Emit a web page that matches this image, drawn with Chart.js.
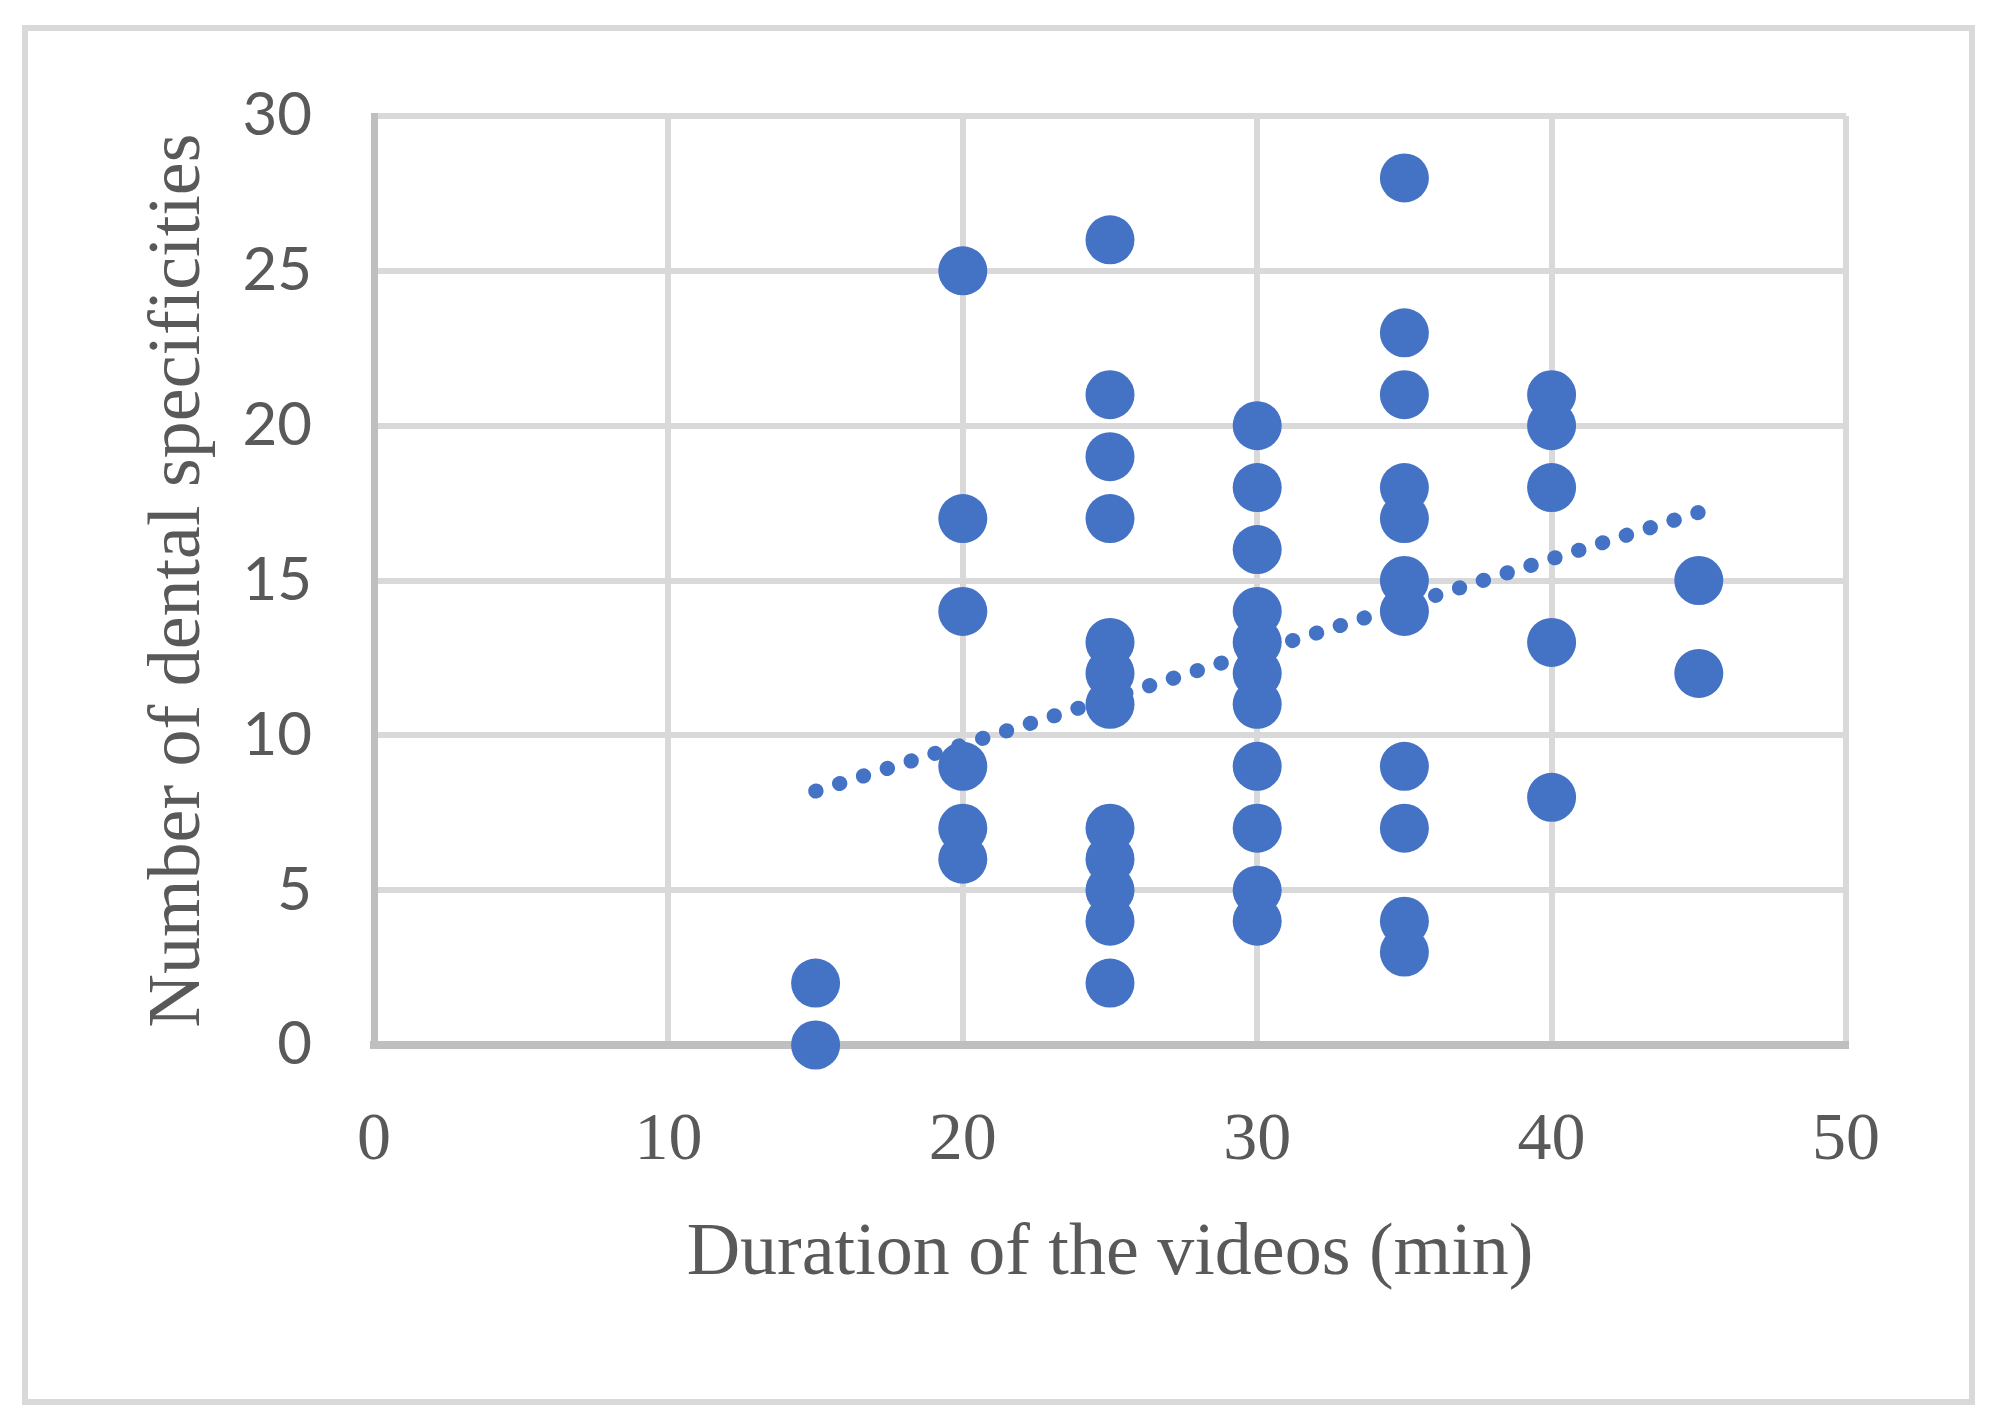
<!DOCTYPE html>
<html>
<head>
<meta charset="utf-8">
<script src="https://cdn.jsdelivr.net/npm/chart.js@4"></script>
<style>
  body { margin: 0; background: #fff; }
  #wrap { position: relative; width: 1994px; height: 1427px; }
  #frame {
    position: absolute; left: 22px; top: 25px; width: 1953px; height: 1380px;
    border: 6px solid #D9D9D9; box-sizing: border-box; pointer-events: none;
  }
  canvas { position: absolute; left: 0; top: 0; }
</style>
</head>
<body>
<div id="wrap">
  <canvas id="myChart" width="1994" height="1427"></canvas>
  <div id="frame"></div>
</div>
<script>
// durations (min) and counts, one entry per video
const durations = [
  15, 15,
  20, 20, 20, 20, 20, 20,
  25, 25, 25, 25, 25, 25, 25, 25, 25, 25, 25, 25,
  30, 30, 30, 30, 30, 30, 30, 30, 30, 30, 30,
  35, 35, 35, 35, 35, 35, 35, 35, 35, 35, 35,
  40, 40, 40, 40, 40,
  45, 45
];
const specificities = [
  2, 0,
  25, 17, 14, 9, 7, 6,
  26, 21, 19, 17, 13, 12, 11, 7, 6, 5, 4, 2,
  20, 18, 16, 14, 13, 12, 11, 9, 7, 5, 4,
  28, 23, 21, 18, 17, 15, 14, 9, 7, 4, 3,
  21, 20, 18, 13, 8,
  15, 12
];
// linear trendline end points
const trendX = [15, 45];
const trendY = [8.2, 17.2];

const xTitle = 'Duration of the videos (min)';
const yTitle = 'Number of dental specificities';

const blue = '#4472C4';
const textGrey = '#595959';

const points = durations.map((d, i) => ({ x: d, y: specificities[i] }));
const trend = trendX.map((d, i) => ({ x: d, y: trendY[i] }));

new Chart('myChart', {
  type: 'scatter',
  data: {
    datasets: [
      {
        label: 'Trend',
        data: trend,
        showLine: true,
        borderColor: blue,
        borderWidth: 15,
        borderDash: [0.5, 24.5],
        borderCapStyle: 'round',
        pointRadius: 0,
        tension: 0,
        clip: false
      },
      {
        label: 'Videos',
        data: points,
        backgroundColor: blue,
        borderWidth: 0,
        pointRadius: 24.5,
        pointHoverRadius: 24.5,
        clip: false
      }
    ]
  },
  options: {
    responsive: false,
    animation: false,
    events: [],
    layout: { padding: { top: 116, right: 148, left: 0, bottom: 0 } },
    plugins: { legend: { display: false }, tooltip: { enabled: false } },
    scales: {
      x: {
        type: 'linear',
        min: 0,
        max: 50,
        afterFit: (scale) => { scale.height = 382; },
        ticks: {
          stepSize: 10,
          padding: 55,
          color: textGrey,
          font: { family: 'Liberation Serif', size: 68 }
        },
        grid: { color: '#D9D9D9', lineWidth: 6, drawTicks: false },
        border: { color: '#BFBFBF', width: 8 },
        title: {
          display: true,
          text: xTitle,
          color: textGrey,
          font: { family: 'Liberation Serif', size: 74 },
          padding: { top: 0, bottom: 128 }
        }
      },
      y: {
        type: 'linear',
        min: 0,
        max: 30,
        afterFit: (scale) => { scale.width = 374; },
        ticks: {
          stepSize: 5,
          padding: 62,
          color: textGrey,
          font: { family: 'Lato', size: 60 }
        },
        grid: { color: '#D9D9D9', lineWidth: 6, drawTicks: false },
        border: { color: '#BFBFBF', width: 7 },
        title: {
          display: true,
          text: yTitle,
          color: textGrey,
          font: { family: 'Liberation Serif', size: 74 },
          padding: { top: 135, bottom: 0 }
        }
      }
    }
  }
});
</script>
</body>
</html>
